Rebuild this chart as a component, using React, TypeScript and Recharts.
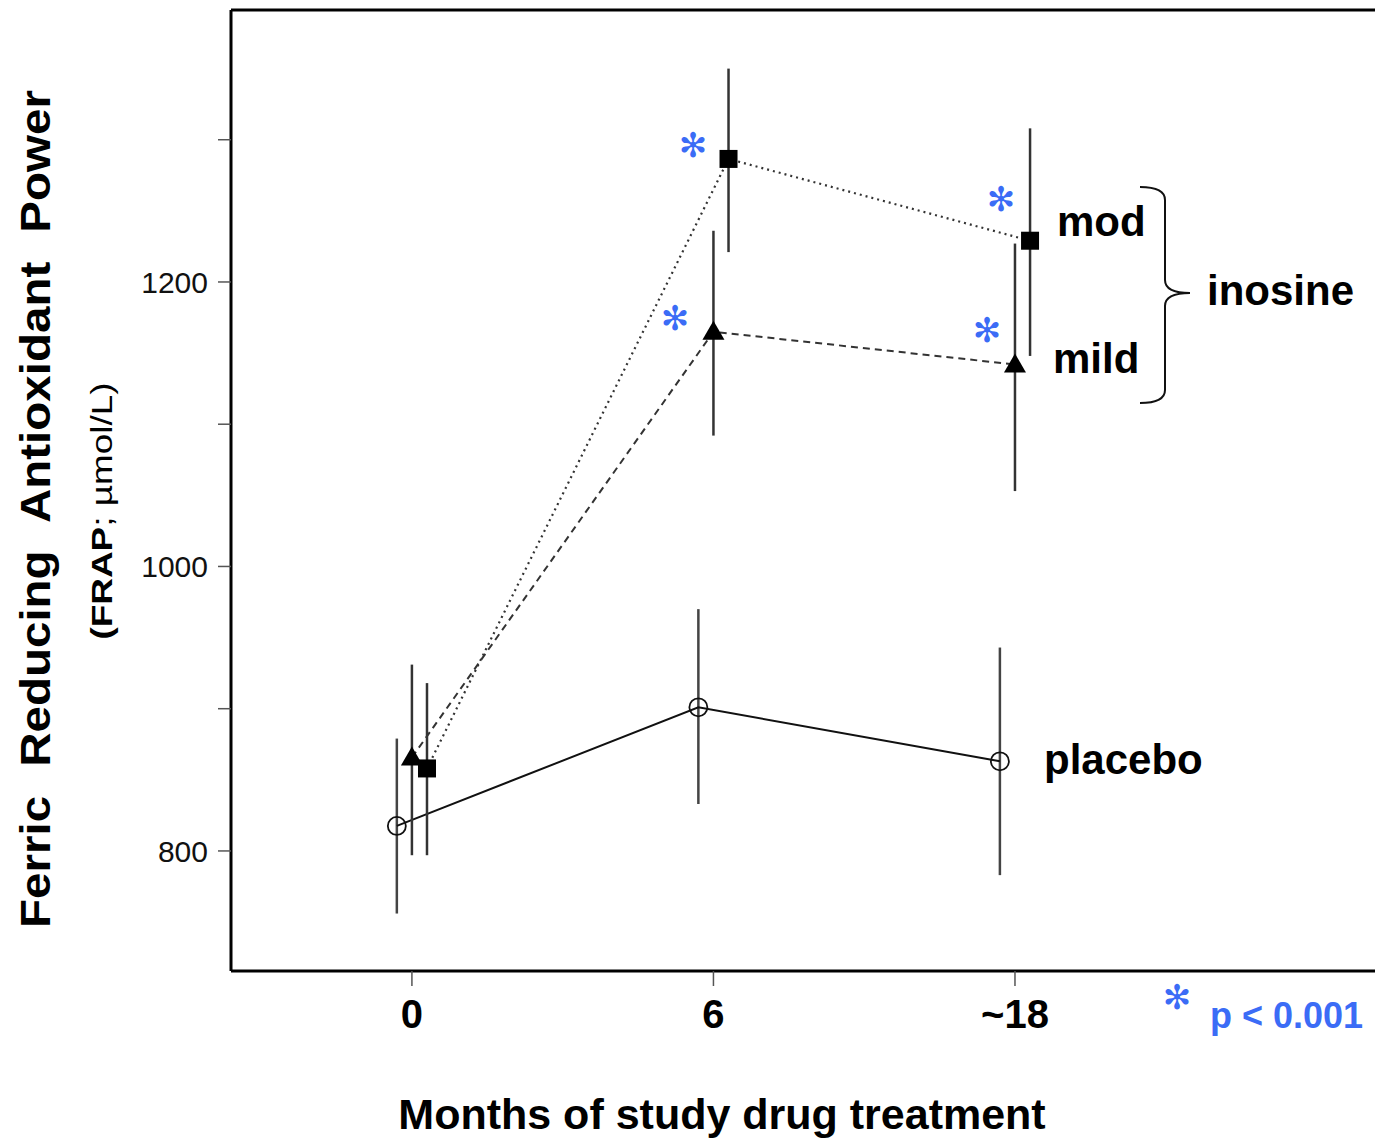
// FRAP over months of treatment, placebo vs inosine (mild / mod)
import { ErrorBar, Line, LineChart, ReferenceLine, XAxis, YAxis } from "recharts";

const monthLabels = ["0", "6", "~18"];

const placeboMean = [817.6, 901, 863];
const placeboLow = [756, 833, 783];
const placeboHigh = [879, 970, 943];

const mildMean = [865.7, 1165, 1142];
const mildLow = [797, 1092, 1053];
const mildHigh = [931, 1236, 1227];

const modMean = [858, 1286.5, 1229];
const modLow = [797, 1221, 1148];
const modHigh = [918, 1350, 1308];

const yTicks = [800, 900, 1000, 1100, 1200, 1300];
const yLabeled = [800, 1000, 1200];

const font = "'Liberation Sans', Arial, Helvetica, sans-serif";
const blue = "#3b6cf6";

function build(mean: number[], low: number[], high: number[], shift: number) {
  return mean.map((v, i) => ({ x: i + shift, y: v, err: [v - low[i], high[i] - v] }));
}

const placebo = build(placeboMean, placeboLow, placeboHigh, -0.05);
const mild = build(mildMean, mildLow, mildHigh, 0);
const mod = build(modMean, modLow, modHigh, 0.05);

const circleDot = (p: any) => (
  <circle key={`c${p.index}`} cx={p.cx} cy={p.cy} r={9} fill="none" stroke="#111" strokeWidth={1.8} />
);
const triDot = (p: any) => (
  <path
    key={`t${p.index}`}
    d={`M${p.cx},${p.cy - 11} L${p.cx + 11},${p.cy + 8} L${p.cx - 11},${p.cy + 8} Z`}
    fill="#000"
  />
);
const squareDot = (p: any) => (
  <rect key={`s${p.index}`} x={p.cx - 9} y={p.cy - 9} width={18} height={18} fill="#000" />
);

const stars: Array<[number, number]> = [
  [693, 145],
  [1001, 199],
  [675, 318],
  [987, 330],
  [1177, 997],
];

export default function App() {
  return (
    <div style={{ position: "absolute", left: 0, top: 0, width: 1375, height: 1140, background: "#fff" }}>
      <LineChart width={1375} height={1140} margin={{ top: 10, right: 0, bottom: 0, left: 0 }}>
        <XAxis
          type="number"
          dataKey="x"
          domain={[-0.6, 3.194]}
          ticks={[0, 1, 2]}
          tickFormatter={(v: number) => monthLabels[v] ?? ""}
          height={169}
          axisLine={{ stroke: "#000", strokeWidth: 3 }}
          tickLine={{ stroke: "#555", strokeWidth: 1.5 }}
          tickSize={15}
          tickMargin={14}
          tick={{ fill: "#000", fontSize: 40, fontWeight: 700, fontFamily: font }}
          allowDataOverflow
        />
        <YAxis
          type="number"
          dataKey="y"
          domain={[715.6, 1391.2]}
          ticks={yTicks}
          tickFormatter={(v: number) => (yLabeled.includes(v) ? String(v) : "")}
          width={231}
          axisLine={{ stroke: "#000", strokeWidth: 3 }}
          tickLine={{ stroke: "#555", strokeWidth: 1.5 }}
          tickSize={13}
          tickMargin={10}
          tick={{ fill: "#111", fontSize: 30, fontFamily: font }}
          allowDataOverflow
        />
        <ReferenceLine y={1391.2} stroke="#000" strokeWidth={3} />
        <Line
          data={placebo}
          dataKey="y"
          stroke="#111"
          strokeWidth={2}
          dot={circleDot}
          isAnimationActive={false}
        >
          <ErrorBar dataKey="err" direction="y" width={0} stroke="#444" strokeWidth={2.5} />
        </Line>
        <Line
          data={mild}
          dataKey="y"
          stroke="#333"
          strokeWidth={2}
          strokeDasharray="7 5"
          dot={triDot}
          isAnimationActive={false}
        >
          <ErrorBar dataKey="err" direction="y" width={0} stroke="#333" strokeWidth={2.5} />
        </Line>
        <Line
          data={mod}
          dataKey="y"
          stroke="#333"
          strokeWidth={2.2}
          strokeDasharray="2 4"
          dot={squareDot}
          isAnimationActive={false}
        >
          <ErrorBar dataKey="err" direction="y" width={0} stroke="#333" strokeWidth={2.5} />
        </Line>
      </LineChart>

      <svg
        width={1375}
        height={1140}
        style={{ position: "absolute", left: 0, top: 0, pointerEvents: "none" }}
        fontFamily={font}
      >
        <text
          x={35}
          y={509}
          transform="rotate(-90, 35, 509)"
          textAnchor="middle"
          dominantBaseline="central"
          fontSize={42}
          fontWeight={700}
          fill="#000"
          textLength={838}
          lengthAdjust="spacingAndGlyphs"
        >
          Ferric<tspan dx={14}> Reducing</tspan>
          <tspan dx={14}> Antioxidant</tspan>
          <tspan dx={14}> Power</tspan>
        </text>
        <text
          x={101}
          y={511}
          transform="rotate(-90, 101, 511)"
          textAnchor="middle"
          dominantBaseline="central"
          fontSize={30}
          fill="#000"
          textLength={257}
          lengthAdjust="spacingAndGlyphs"
        >
          <tspan fontWeight={700}>(FRAP</tspan>; µmol/L)
        </text>
        <text x={722} y={1129} textAnchor="middle" fontSize={43} fontWeight={700} fill="#000">
          Months of study drug treatment
        </text>

        <text x={1057} y={236} fontSize={42} fontWeight={700} fill="#000">mod</text>
        <text x={1053} y={373} fontSize={42} fontWeight={700} fill="#000">mild</text>
        <text x={1207} y={305} fontSize={42} fontWeight={700} fill="#000">inosine</text>
        <text x={1044} y={774} fontSize={42} fontWeight={700} fill="#000">placebo</text>
        <path
          d="M1140,187 Q1165,187 1165,200 L1165,280 Q1165,293 1190,293 Q1165,293 1165,306 L1165,390 Q1165,403 1140,403"
          fill="none"
          stroke="#111"
          strokeWidth={2}
        />

        {stars.map(([x, y], i) => (
          <text
            key={i}
            x={x}
            y={y}
            textAnchor="middle"
            dominantBaseline="central"
            fontSize={34}
            fontFamily="'DejaVu Sans', sans-serif"
            fill={blue}
          >
            ✻
          </text>
        ))}
        <text x={1210} y={1028} fontSize={36} fontWeight={700} fill={blue}>p &lt; 0.001</text>
      </svg>
    </div>
  );
}
